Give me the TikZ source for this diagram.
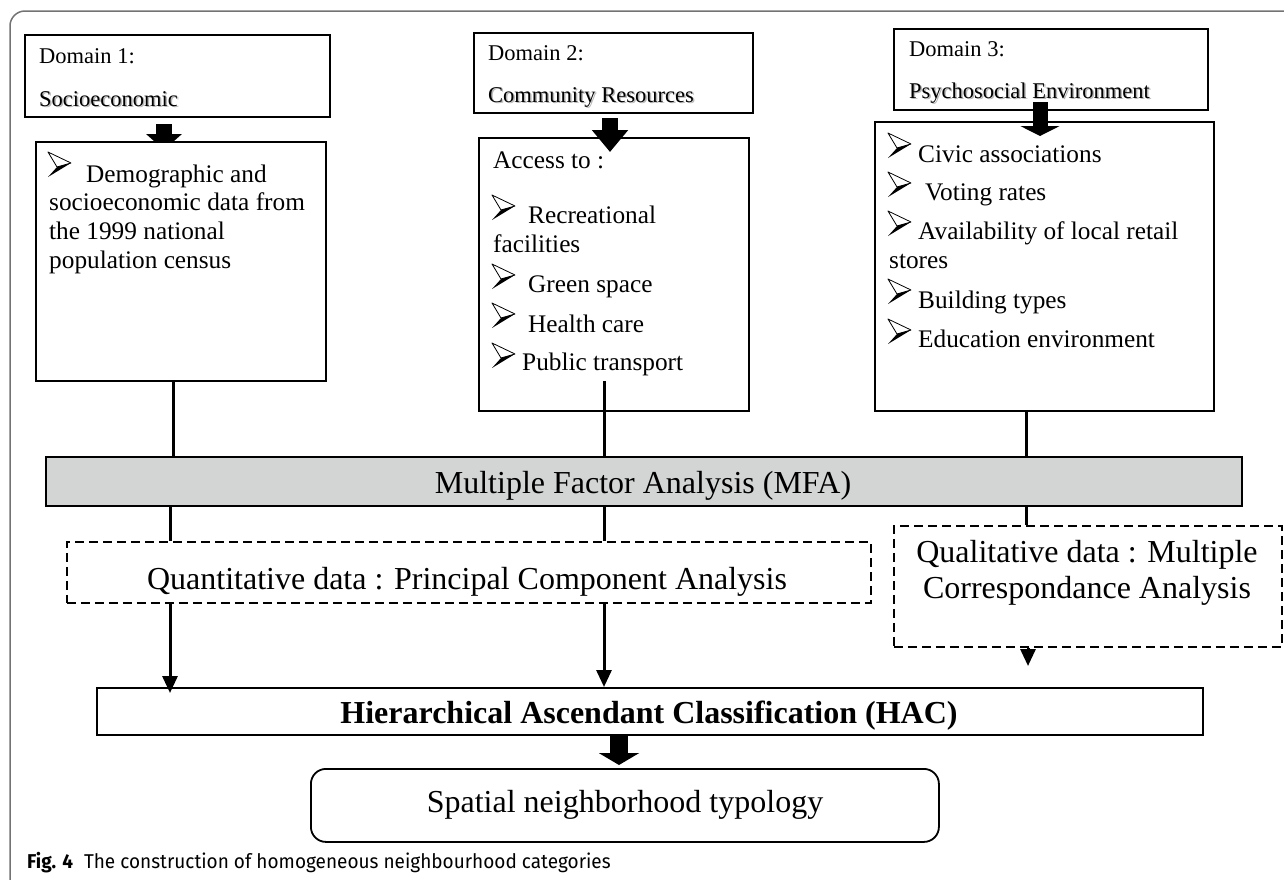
\documentclass[tikz,border=0pt]{standalone}
\usepackage{fontspec}
\setmainfont{Liberation Serif}
\newfontfamily\capfont[FakeStretch=0.95]{Fira Sans}
\usetikzlibrary{arrows.meta}
\definecolor{mfagray}{RGB}{211,213,212}
\definecolor{framegray}{RGB}{115,115,115}
\begin{document}
\begin{tikzpicture}[x=1pt,y=-1pt,
  box/.style={draw, line width=1.8pt, fill=white, inner sep=0pt, anchor=north west},
  dbox/.style={draw, line width=1.5pt, dash pattern=on 9pt off 5pt, inner sep=0pt, anchor=north west},
  conn/.style={line width=3pt},
  arr/.style={line width=3pt, -{Triangle[width=15pt,length=17pt]}},
  dtxt/.style={anchor=base west, inner sep=0pt, font=\fontsize{22.5}{27}\selectfont},
  shtxt/.style={dtxt, text=black!28},
  btxt/.style={anchor=base west, inner sep=0pt, font=\fontsize{25.3}{29}\selectfont},
  big/.style={anchor=base, inner sep=0pt, font=\fontsize{32}{36}\selectfont},
  bul/.pic={\filldraw[fill=white, line width=0.8pt, line join=round] (0,0) -- (23,11) -- (9,15) -- cycle;
            \fill (9,15) -- (23,11) -- (0,25) -- cycle;}
]
\useasboundingbox (0,0) rectangle (1284,879);
% outer frame
\begin{scope}
\clip (0,0) rectangle (1284,879);
\draw[framegray, line width=1.5pt, rounded corners=15pt] (10,11) rectangle (1320,910);
\end{scope}

% domain boxes
\node[box, minimum width=305pt, minimum height=82pt] (d1) at (24,34) {};
\node[box, minimum width=279pt, minimum height=80pt] (d2) at (473,32) {};
\node[box, minimum width=314pt, minimum height=81pt] (d3) at (893,28) {};

\node[dtxt] (d1a) at (39,63) {Domain 1:};
\node[shtxt] (d1s) at (40.5,107.5) {Socioeconomic};
\node[dtxt] (d1b) at (39,106) {Socioeconomic};
\node[dtxt] (d2a) at (488,60) {Domain 2:};
\node[shtxt] (d2s) at (489.5,103.5) {Community Resources};
\node[dtxt] (d2b) at (488,102) {Community Resources};
\node[dtxt] (d3a) at (909,56) {Domain 3:};
\node[shtxt] (d3s) at (910.5,99.5) {Psychosocial Environment};
\node[dtxt] (d3b) at (909,98) {Psychosocial Environment};

% block arrow 1 (partly hidden by box 1)
\coordinate (a1s) at (164,124);
\coordinate (a1e) at (164,150);
\draw[line width=16pt, -{Triangle[width=35pt,length=16pt]}] (a1s) -- (a1e);

% content boxes
\node[box, minimum width=290pt, minimum height=239pt] (b1) at (35,141) {};
\node[box, minimum width=270pt, minimum height=273pt] (b2) at (478,137) {};
\node[box, minimum width=339pt, minimum height=289pt] (b3) at (874,121) {};

% block arrows 2 and 3
\coordinate (a2s) at (610,118);
\coordinate (a2e) at (610,152);
\draw[line width=16pt, -{Triangle[width=35pt,length=22pt]}] (a2s) -- (a2e);
\coordinate (a3s) at (1040,102);
\coordinate (a3e) at (1040,136);
\draw[line width=15pt, -{Triangle[width=39pt,length=10pt]}] (a3s) -- (a3e);

% box 1 text
\pic (p1) at (48,152) {bul};
\node[btxt] (t11) at (86,182) {Demographic and};
\node[btxt] (t12) at (49,210) {socioeconomic data from};
\node[btxt] (t13) at (49,239) {the 1999 national};
\node[btxt] (t14) at (49,268) {population census};

% box 2 text
\node[btxt] (t20) at (493,168) {Access to :};
\pic (p21) at (492,195) {bul};
\node[btxt] (t21) at (528,223) {Recreational};
\node[btxt] (t22) at (493,252) {facilities};
\pic (p23) at (492,264) {bul};
\node[btxt] (t23) at (528,292) {Green space};
\pic (p24) at (492,303) {bul};
\node[btxt] (t24) at (528,332) {Health care};
\pic (p25) at (492,343) {bul};
\node[btxt] (t25) at (522,370) {Public transport};

% box 3 text
\pic (p31) at (888,133) {bul};
\node[btxt] (t31) at (918,162) {Civic associations};
\pic (p32) at (888,172) {bul};
\node[btxt] (t32) at (925,200) {Voting rates};
\pic (p33) at (888,211) {bul};
\node[btxt] (t33) at (918,239) {Availability of local retail};
\node[btxt] (t34) at (889,268) {stores};
\pic (p35) at (888,279) {bul};
\node[btxt] (t35) at (918,308) {Building types};
\pic (p36) at (888,319) {bul};
\node[btxt] (t36) at (918,347) {Education environment};

% MFA
\node[box, fill=mfagray, minimum width=1196pt, minimum height=49pt] (mfa) at (45,456) {};
\node[big] (mfat) at (643,493) {Multiple Factor Analysis (MFA)};

% PCA and MCA
\node[dbox, minimum width=804pt, minimum height=61pt] (pca) at (66,541) {};
\node[big] (pcat) at (467,589) {Quantitative data : Principal Component Analysis};
\node[dbox, minimum width=388pt, minimum height=121pt] (qual) at (893,525) {};
\node[big] (q1) at (1087,562) {Qualitative data : Multiple};
\node[big] (q2) at (1087,598) {Correspondance Analysis};

% HAC
\node[box, minimum width=1106pt, minimum height=47pt] (hac) at (96,687) {};
\node[big, font=\fontsize{32}{36}\selectfont\bfseries] (hact) at (649,723) {Hierarchical Ascendant Classification (HAC)};

% spatial typology
\node[box, rounded corners=15pt, minimum width=628pt, minimum height=73pt] (sp) at (310,768) {};
\node[big] (spt) at (625,812) {Spatial neighborhood typology};

% block arrow 4
\coordinate (a4s) at (619,736);
\coordinate (a4e) at (619,765);
\draw[line width=18pt, -{Triangle[width=40pt,length=12pt]}] (a4s) -- (a4e);

% connectors
\coordinate (x1) at (173,0);
\coordinate (x1b) at (170,0);
\coordinate (c2) at (604,381);
\coordinate (x3) at (1026,0);
\coordinate (qtip) at (1028,666);
\draw[conn] (b1.south -| x1) -- (mfa.north -| x1);
\draw[conn] (mfa.south -| x1b) -- (pca.north -| x1b);
\draw[arr] (pca.south -| x1b) -- ([yshift=-6pt]hac.north -| x1b);
\draw[conn] (c2) -- (mfa.north -| c2);
\draw[conn] (mfa.south -| c2) -- (pca.north -| c2);
\draw[arr] (pca.south -| c2) -- (hac.north -| c2);
\draw[conn] (b3.south -| x3) -- (mfa.north -| x3);
\draw[conn] (mfa.south -| x3) -- (qual.north -| x3);
\draw[arr] (qual.south -| qtip) -- (qtip);

% caption
\node[anchor=base west, inner sep=0pt, font=\capfont\fontsize{20}{24}\selectfont] (cap) at (27,868)
  {\textbf{Fig. 4}\hspace{11pt}The construction of homogeneous neighbourhood categories};
\end{tikzpicture}
\end{document}
